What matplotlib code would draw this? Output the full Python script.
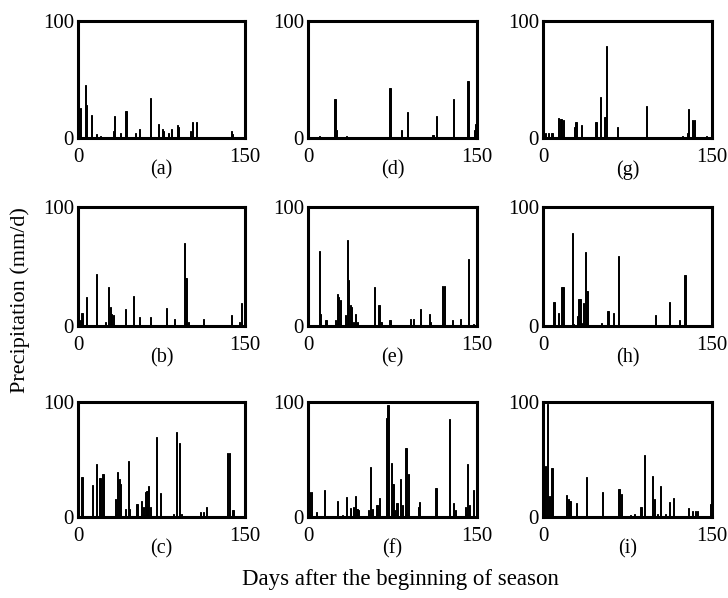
import matplotlib.pyplot as plt

plt.rcParams['font.family'] = ['Liberation Serif', 'DejaVu Serif']

# day of season, precipitation (mm/d) per panel
a_days = [1, 2, 6.6, 8, 12, 17, 20, 32, 33, 38, 42.5, 43.5, 52, 55.5, 65, 72, 75.6, 77, 81, 84, 89, 90.6, 101, 103, 106.5, 138, 139]
a_vals = [7, 26, 45, 28, 20, 3, 1.5, 6, 19, 4, 23, 23, 4, 8, 34, 12, 8, 6, 4, 8, 11, 9, 6, 14, 14, 6, 3.5]

b_days = [2.4, 3.6, 8, 17, 25, 27.6, 29, 30, 31.5, 42.6, 50, 55.5, 65, 79.5, 87, 95.7, 97, 99.6, 113, 138, 145, 146.7]
b_vals = [5, 11, 24, 44, 3.4, 33, 16, 10, 9, 14, 25, 7.5, 7.5, 15, 6, 70, 40, 3.4, 6, 9, 3.4, 19]

c_days = [3.6, 13, 17, 19, 20.4, 22.5, 34, 35.7, 37, 38.4, 42.3, 45, 46.5, 53, 57, 58.5, 60.6, 62, 63.6, 65,
          70.5, 74.4, 85.5, 88.8, 91.5, 93, 110, 112.5, 115.5, 134.4, 136, 139, 140, 149.5]
c_vals = [35, 27.6, 46.5, 34, 34, 37, 16, 38.7, 33, 29, 7, 49, 7, 11, 13.7, 9, 22, 23, 26.7, 9,
          70, 21, 3, 74, 64, 2.3, 4.4, 4.4, 9, 56, 56, 6, 6, 11]

d_days = [10, 24, 25, 34, 72.5, 73.5, 83, 88, 111, 114, 129, 142, 147.6, 149]
d_vals = [1.5, 33, 6.5, 1.5, 43, 43, 7, 22, 2.5, 19, 33, 49, 7, 12]

e_days = [10, 11, 16, 24.6, 26, 27, 28.5, 33.5, 35, 36, 37.4, 38.6, 40, 42, 43.7, 59, 63, 64.8, 72.8,
          90.6, 94, 99.5, 107.5, 109, 119.4, 121, 128.6, 135.4, 142.3, 147]
e_vals = [63, 10, 5, 5, 27, 24.5, 22, 9, 72, 39, 17.5, 16, 3.4, 10.4, 3.4, 33, 18, 3.4, 5,
          6, 6, 14, 10, 3.4, 34, 34, 5, 6, 56, 1.5]

f_days = [1.5, 2.8, 7.8, 14.6, 26.5, 30.7, 34.3, 38, 40, 42, 43.5, 45, 54, 55.5, 57, 61, 62, 63.5,
          69.5, 71, 74, 75.4, 77, 79, 82, 83.8, 87, 89, 97.8, 99.3, 113.6, 125.5, 129.4, 131,
          140, 141.6, 143, 146.7]
f_vals = [22, 22, 4.3, 23.7, 14.3, 1.4, 17, 8, 8.6, 18.6, 6.6, 6.3, 5.7, 43.4, 7, 10.6, 10.6, 16.3,
          85.7, 97.7, 47, 28.6, 5.7, 12, 33, 10.6, 60, 37, 8.6, 13.4, 25, 85, 12, 5.7,
          8.6, 45.7, 10.6, 23.7]

g_days = [2, 5, 8, 14, 16, 18, 28, 29, 30, 34.5, 47, 51, 55, 56.4, 66, 92, 124, 128, 129, 133, 134.5, 145.5]
g_vals = [4, 4, 4, 17, 16, 15.5, 9, 14, 14, 11.5, 14, 35, 18, 79, 9, 27, 2, 4, 25, 15.5, 15.5, 2]

h_days = [9.8, 13.7, 16.3, 17.8, 25.8, 27.3, 31, 32, 33.3, 34.5, 35.6, 37.4, 39, 52, 57, 58, 62.7,
          66.8, 87.6, 99.5, 112, 121, 126]
h_vals = [20, 11, 33, 33, 78, 2, 8, 22.5, 22.5, 2.5, 19, 62, 29, 2.5, 12.4, 12.4, 11,
          59, 1, 9, 20, 5, 43]

i_days = [2.4, 3.9, 5.6, 8, 21, 22.6, 24, 29.4, 38.6, 52.9, 67.4, 70, 78, 81, 87, 90, 97.4, 99,
          102, 104.6, 108.4, 112, 116, 129.5, 133, 135, 137.5, 149]
i_vals = [44, 98.6, 18, 43, 19, 16, 14, 12, 35, 21.7, 24.6, 20, 2, 2.5, 9, 54, 36, 15.5,
          2.5, 27, 2.5, 12.7, 16.7, 7.6, 5.4, 5.4, 5.4, 11.6]

panels = [
    ('(a)', a_days, a_vals), ('(d)', d_days, d_vals), ('(g)', g_days, g_vals),
    ('(b)', b_days, b_vals), ('(e)', e_days, e_vals), ('(h)', h_days, h_vals),
    ('(c)', c_days, c_vals), ('(f)', f_days, f_vals), ('(i)', i_days, i_vals),
]

W, H = 728, 598
cols = [(78, 245), (308, 477), (543, 712)]
rows = [(21, 138), (207, 326), (402, 517)]

fig = plt.figure(figsize=(W / 100, H / 100), dpi=100)

for k, (name, days, vals) in enumerate(panels):
    r, c = divmod(k, 3)
    x0, x1 = cols[c]
    y0, y1 = rows[r]
    ax = fig.add_axes([x0 / W, 1 - y1 / H, (x1 - x0) / W, (y1 - y0) / H])
    ax.bar(days, vals, width=1.0, color='black', edgecolor='black', linewidth=0.7, align='center')
    ax.set_xlim(0, 150)
    ax.set_ylim(0, 100)
    ax.set_xticks([0, 150])
    ax.set_yticks([0, 100])
    ax.tick_params(length=0, labelsize=15)
    ax.tick_params(axis='x', pad=7)
    ax.tick_params(axis='y', pad=3)
    for s in ax.spines.values():
        s.set_linewidth(2.2)
    # panel letter ~31 px under the frame
    fig.text((x0 + x1) / 2 / W, 1 - (y1 + 32) / H, name, ha='center', va='center', fontsize=14.5)

fig.text(20 / W, 1 - 300 / H, 'Precipitation (mm/d)', rotation=90, ha='center', va='center', fontsize=16)
fig.text(400 / W, 1 - 580 / H, 'Days after the beginning of season', ha='center', va='center', fontsize=16.5)

fig.savefig('out.png', dpi=100)
